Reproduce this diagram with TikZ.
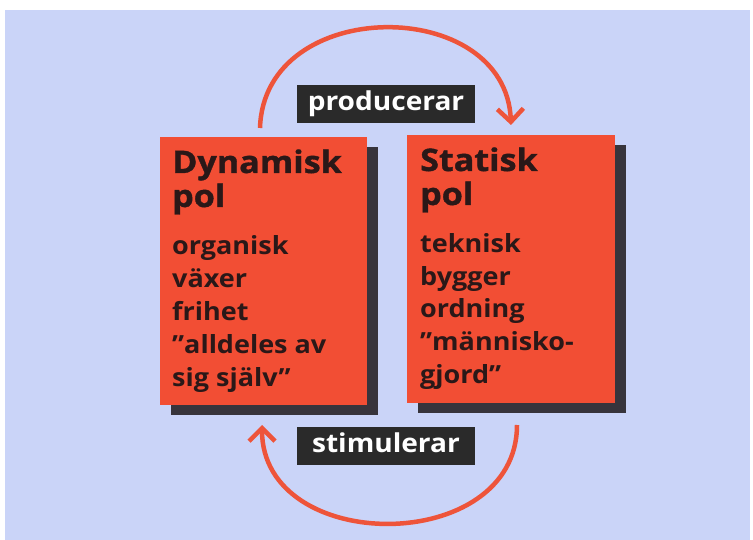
\documentclass[tikz,border=0pt]{standalone}
\usepackage{fontspec}
\setmainfont{Open Sans}
\newfontfamily\titlefont{Open Sans}[BoldFont={* Bold},BoldFeatures={FakeStretch=1.1,FakeBold=1.2}]
\newfontfamily\bodyfont{Open Sans}[BoldFont={* Bold},BoldFeatures={FakeStretch=1.08}]
\usetikzlibrary{arrows.meta,shadows}
\definecolor{bgblue}{RGB}{202,212,248}
\definecolor{polred}{RGB}{242,78,52}
\definecolor{arcred}{RGB}{238,84,58}
\definecolor{shadowgray}{RGB}{55,52,60}
\definecolor{inkdark}{RGB}{42,24,24}
\definecolor{labeldark}{RGB}{42,42,42}
\begin{document}
\begin{tikzpicture}[x=1pt,y=-1pt,
  polbox/.style={fill=polred, draw=none, anchor=north west, inner sep=0pt,
    minimum height=268pt,
    drop shadow={shadow xshift=11pt,shadow yshift=-10pt,fill=shadowgray,opacity=1}},
  titletext/.style={anchor=base west, inner sep=0pt, text=inkdark,
    font=\titlefont\bfseries\fontsize{31}{34}\selectfont},
  bodytext/.style={anchor=base west, inner sep=0pt, text=inkdark,
    font=\bodyfont\bfseries\fontsize{25}{33}\selectfont},
  verbbox/.style={fill=labeldark, minimum width=178pt, minimum height=38pt,
    inner sep=0pt, text height=19pt, text depth=5pt, text=white,
    font=\bodyfont\bfseries\fontsize{26}{30}\selectfont},
  cyclearrow/.style={draw=arcred, line width=4.5pt,
    -{Straight Barb[length=13pt,width=26pt]}}
]
\useasboundingbox (0,0) rectangle (753,540);
\fill[bgblue] (5,10) rectangle (750,540);

% boxes
\node[polbox, minimum width=207pt] (dyn) at (160,137) {};
\node[polbox, minimum width=208pt] (stat) at (407,135) {};

% left texts
\node[titletext] (d1) at (172,173) {Dynamisk};
\node[titletext] (d2) at (172,207) {pol};
\node[bodytext] (d3) at (172,255) {organisk};
\node[bodytext] (d4) at (172,288) {växer};
\node[bodytext] (d5) at (172,320) {frihet};
\node[bodytext] (d6) at (172,353) {”alldeles av};
\node[bodytext] (d7) at (172,386) {sig själv”};

% right texts
\node[titletext] (s1) at (420,171) {Statisk};
\node[titletext] (s2) at (420,205) {pol};
\node[bodytext] (s3) at (420,253) {teknisk};
\node[bodytext] (s4) at (420,286) {bygger};
\node[bodytext] (s5) at (420,318) {ordning};
\node[bodytext] (s6) at (420,351) {”människo-};
\node[bodytext] (s7) at (420,384) {gjord”};

% arcs
\coordinate (topL) at (260,128);
\coordinate (topR) at (511,125);
\coordinate (botR) at (517,425);
\coordinate (botL) at (262,425);
\draw[cyclearrow] (topL) .. controls (264,-5) and (506,-5) .. (topR);
\draw[cyclearrow] (botR) .. controls (517,556) and (262,556) .. (botL);

% verb labels
\node[verbbox] (prod) at (386,104) {producerar};
\node[verbbox] (stim) at (386,445.5) {stimulerar};
\end{tikzpicture}
\end{document}
